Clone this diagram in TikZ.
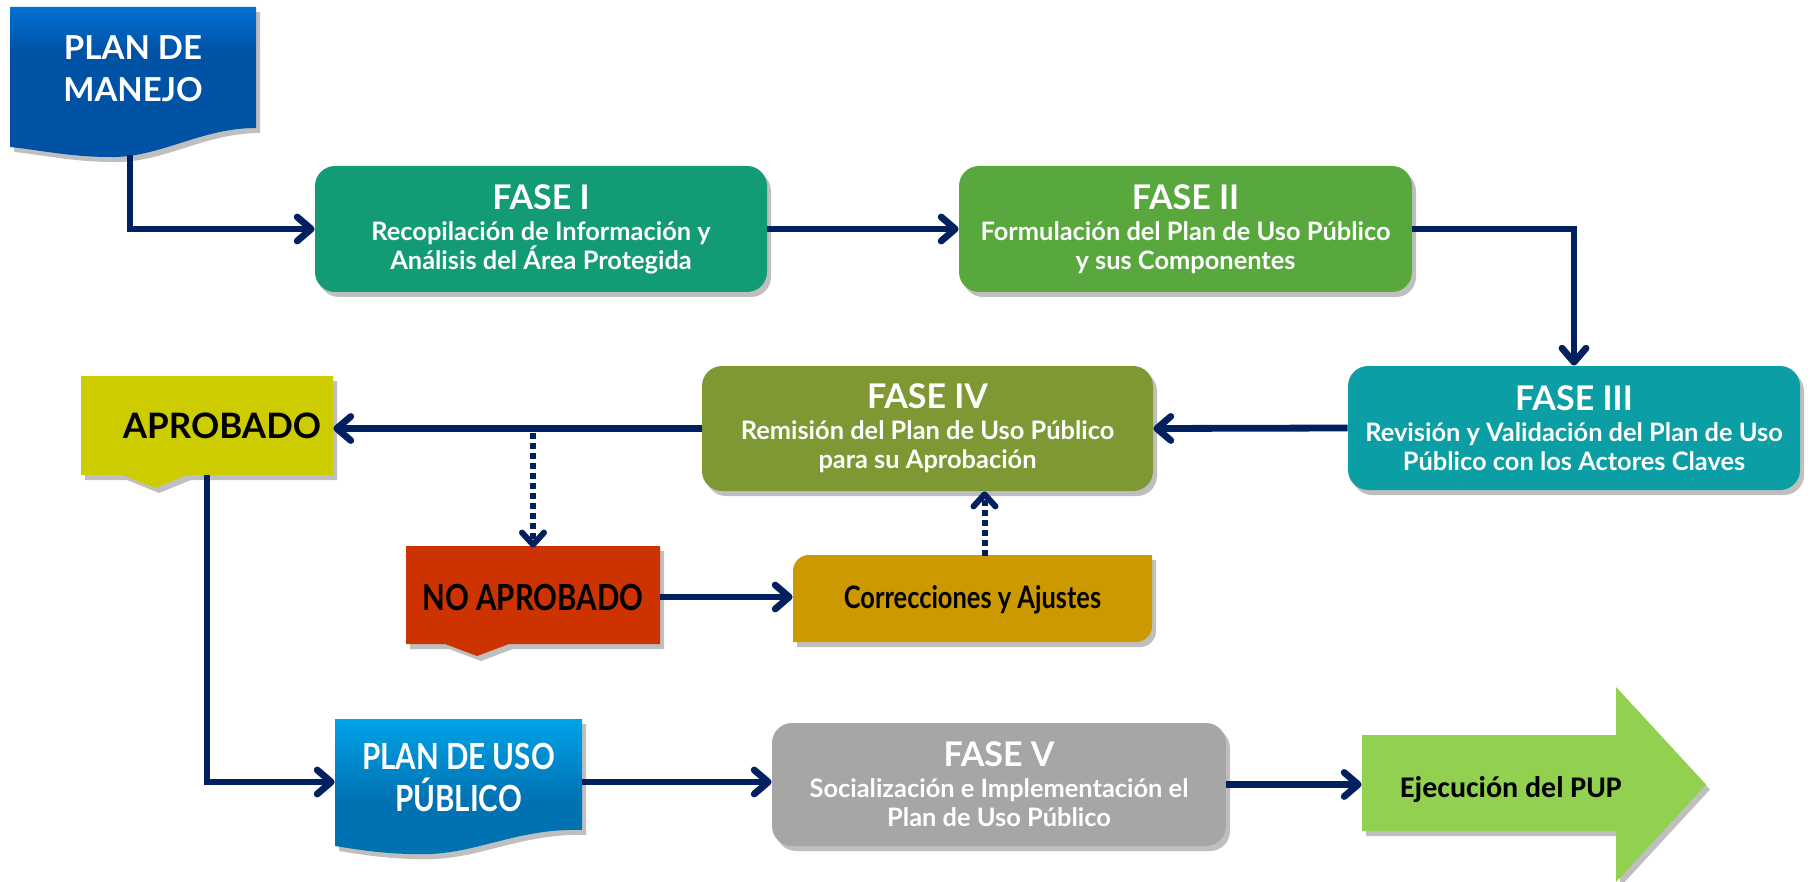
\documentclass[tikz,border=0pt]{standalone}
\usepackage{fontspec}
\setmainfont{Lato}
\newfontfamily\condfont[FakeStretch=0.82]{Lato}
\newfontfamily\calfont{Carlito}
\usetikzlibrary{arrows.meta,shadows,calc}
\definecolor{navy}{RGB}{0,32,96}
\definecolor{cfa}{RGB}{18,155,116}
\definecolor{cfb}{RGB}{88,168,62}
\definecolor{cfc}{RGB}{11,158,164}
\definecolor{cfd}{RGB}{126,152,52}
\definecolor{cfe}{RGB}{166,166,166}
\definecolor{capr}{RGB}{204,204,0}
\definecolor{cnap}{RGB}{204,51,0}
\definecolor{ccor}{RGB}{204,153,0}
\definecolor{ceje}{RGB}{146,208,80}
\definecolor{pdmtop}{RGB}{0,112,210}
\definecolor{pdmbot}{RGB}{0,82,164}
\definecolor{puptop}{RGB}{0,163,232}
\definecolor{pupbot}{RGB}{0,114,178}
\pgfdeclareverticalshading{pdmshade}{100bp}{color(0bp)=(pdmbot); color(25bp)=(pdmbot); color(60bp)=(pdmbot); color(75bp)=(pdmtop); color(100bp)=(pdmtop)}
\pgfdeclareverticalshading{pupshade}{100bp}{color(0bp)=(pupbot); color(25bp)=(pupbot); color(45bp)=(pupbot); color(75bp)=(puptop); color(100bp)=(puptop)}
\newcommand{\ttl}[1]{{\fontsize{17}{18}\selectfont #1}\\[1pt]}
\tikzset{
  shad/.style={drop shadow={shadow xshift=2pt,shadow yshift=-2.5pt,opacity=0.25,fill=black}},
  fase/.style={rounded corners=10pt, text=white, align=center, shad,
    font=\bfseries\fontsize{12.7}{14.5}\selectfont, inner sep=2pt},
  ghost/.style={inner sep=0pt},
  lbl/.style={align=center, font=\bfseries\fontsize{16.5}{20}\selectfont},
  arr/.style={draw=navy, line width=3.4pt, -{Straight Barb[length=7pt,width=12pt,round]}},
  darr/.style={draw=navy, line width=3pt, dash pattern=on 3pt off 2pt, -{Straight Barb[length=6pt,width=11pt,round]}}
}
\begin{document}
\begin{tikzpicture}[x=0.5pt,y=-0.5pt]
\useasboundingbox (0,0) rectangle (1810,882);

% PLAN DE MANEJO
\path[shading=pdmshade, shad] (10,7) -- (256,7) -- (256,128)
  .. controls (200,128) and (160,158) .. (110,157)
  .. controls (70,157) and (40,150) .. (10,147) -- cycle;
\node[lbl, text=white, font=\bfseries\fontsize{16.5}{21}\selectfont] (pdmt) at (133,69) {PLAN DE\\MANEJO};
\coordinate (pdmb) at (130,155);

% fases
\node[fase, fill=cfa, minimum width=226pt, minimum height=63pt] (f1) at (541,229)
  {\ttl{FASE I}Recopilación de Información y\\Análisis del Área Protegida};
\node[fase, fill=cfb, minimum width=226.5pt, minimum height=63pt] (f2) at (1185.5,229)
  {\ttl{FASE II}Formulación del Plan de Uso Público\\y sus Componentes};
\node[fase, fill=cfc, minimum width=226pt, minimum height=62pt] (f3) at (1574,428)
  {\ttl{FASE III}Revisión y Validación del Plan de Uso\\Público con los Actores Claves};
\node[fase, fill=cfd, minimum width=225.5pt, minimum height=62.5pt] (f4) at (927.5,428.5)
  {\ttl{FASE IV}Remisión del Plan de Uso Público\\para su Aprobación};
\node[fase, fill=cfe, minimum width=227pt, minimum height=61.5pt] (f5) at (999,784.5)
  {\ttl{FASE V}Socialización e Implementación el\\Plan de Uso Público};

% APROBADO
\fill[capr, shad] (81,376) -- (333,376) -- (333,475) -- (187,475) -- (155,488) -- (123,475) -- (81,475) -- cycle;
\node[ghost, minimum width=126pt, minimum height=49.5pt] (apr) at (207,425.5) {};
\node[lbl, font=\bfseries\fontsize{17.5}{20}\selectfont] (aprt) at (222,425.5) {APROBADO};

% NO APROBADO
\fill[cnap, shad] (406,546) -- (660,546) -- (660,644) -- (509,644) -- (477,656) -- (445,644) -- (406,644) -- cycle;
\node[ghost, lbl, font=\condfont\bfseries\fontsize{18}{20}\selectfont, minimum width=127pt, minimum height=49pt] (nap) at (533,597) {NO APROBADO};

% Correcciones
\fill[ccor, shad] (793,600) [rounded corners=8pt] -- (793,555) [sharp corners] -- (1152,555) -- (1152,600) [rounded corners=8pt] -- (1152,642) [sharp corners] -- (793,642) -- cycle;
\node[ghost, font=\condfont\bfseries\fontsize{15.5}{18}\selectfont, minimum width=179.5pt, minimum height=43.5pt] (cor) at (972.5,600) {Correcciones y Ajustes};

% PLAN DE USO PUBLICO
\path[shading=pupshade, shad] (335,719) -- (582,719) -- (582,830)
  .. controls (520,828) and (480,852) .. (430,854)
  .. controls (390,855) and (360,850) .. (335,846) -- cycle;
\node[ghost, minimum width=123.5pt, minimum height=65pt] (pup) at (458.5,782) {};
\node[lbl, text=white, font=\condfont\bfseries\fontsize{18}{21}\selectfont] (pupt) at (458.5,777) {PLAN DE USO\\PÚBLICO};

% Ejecucion
\fill[ceje, shad] (1362,735) -- (1616,735) -- (1616,687) -- (1706,784.5) -- (1616,882) -- (1616,831) -- (1362,831) -- cycle;
\node[ghost, minimum width=127pt, minimum height=48pt] (eje) at (1489,783) {};
\node[font=\calfont\bfseries\fontsize{15}{17}\selectfont] (ejet) at (1511,790) {Ejecución del PUP};

% connectors
\draw[arr] (pdmb) |- (f1.west);
\draw[arr] (f1.east) -- (f2.west);
\draw[arr] (f2.east) -| (f3.north);
\draw[arr] (f3.west) -- (f4.east);
\draw[arr] (f4.west) -- (f4.west -| apr.east);
\draw[darr] ([yshift=-2pt]f4.west -| nap.north) -- (nap.north);
\draw[arr] (nap.east) -- (nap.east -| cor.west);
\draw[darr] ([xshift=6pt]cor.north) -- ([xshift=6pt]cor.north |- f4.south);
\draw[arr] (apr.south) |- (pup.west);
\draw[arr] (pup.east) -- (pup.east -| f5.west);
\draw[arr] (f5.east) -- (f5.east -| eje.west);
\end{tikzpicture}
\end{document}
